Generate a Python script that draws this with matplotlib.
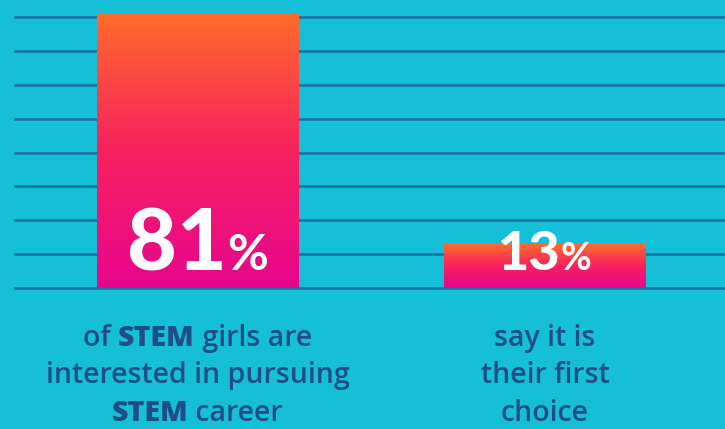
import numpy as np
import matplotlib.pyplot as plt
import matplotlib.transforms as mtransforms
from matplotlib.colors import LinearSegmentedColormap

values = [81, 13]
value_labels = ["81", "13"]
grid_levels = [0, 10, 20, 30, 40, 50, 60, 70, 80]
captions = [
    [[("of ", "semibold"), ("STEM", "extra bold"), (" girls are", "semibold")],
     [("interested in pursuing", "semibold")],
     [("STEM", "extra bold"), (" career", "semibold")]],
    [[("say it is", "semibold")],
     [("their first", "semibold")],
     [("choice", "semibold")]],
]

bg = "#14bfd7"
navy = "#1d4e87"
grid_color = "#1c6fa0"

fig = plt.figure(figsize=(7.25, 4.29), dpi=100, facecolor=bg)
ax = fig.add_axes([15 / 725, 141 / 429, 1 - 15 / 725, 288 / 429])
ax.set_facecolor(bg)
ax.axis("off")

for g in grid_levels:
    ax.axhline(g, color=grid_color, lw=1.8, zorder=1, clip_on=False)

cmap = LinearSegmentedColormap.from_list("pinkorange", ["#e8058f", "#f7215f", "#ff6b2a"])
grad = np.linspace(0, 1, 256).reshape(-1, 1)
bars = ax.bar(range(len(values)), values, width=0.58, color="none", zorder=2)
for b in bars:
    x0, y0, w, h = b.get_x(), b.get_y(), b.get_width(), b.get_height()
    im = ax.imshow(grad, cmap=cmap, extent=[x0, x0 + w, y0, y0 + h],
                   origin="lower", aspect="auto", zorder=2)
    im.set_clip_path(b)

ax.set_xlim(-0.525, 1.518)
ax.set_ylim(0, 85.1)

renderer = fig.canvas.get_renderer()


def place_row(x, y, segs, trans, **common):
    # segs: list of (text, fontsize, weight); drawn left to right, centered on x
    texts = []
    for s, size, weight in segs:
        t = ax.text(x, y, s, fontsize=size, fontweight=weight, transform=trans,
                    ha="left", va="baseline", **common)
        texts.append(t)
    widths = [t.get_window_extent(renderer).width for t in texts]
    start = -sum(widths) / 2
    for t, w in zip(texts, widths):
        t.set_transform(mtransforms.offset_copy(trans, fig, x=start, units="dots"))
        start += w


# value labels inside bars
for i, lab in enumerate(value_labels):
    big = 62 if values[i] > 40 else 39
    small = 36 if values[i] > 40 else 27
    place_row(i, 5.3, [(lab, big, "black"), ("%", small, "bold")], ax.transData,
              color="white", family="Lato", zorder=3)

# captions under bars
blend = mtransforms.blended_transform_factory(ax.transData, fig.transFigure)
baselines = [1 - 346 / 429, 1 - 383 / 429, 1 - 421 / 429]
for i, lines in enumerate(captions):
    for line, yb in zip(lines, baselines):
        segs = [(s, 20.5, w) for s, w in line]
        place_row(i, yb, segs, blend, color=navy, family="Open Sans", clip_on=False)

fig.savefig("out.png", dpi=100, facecolor=bg)
